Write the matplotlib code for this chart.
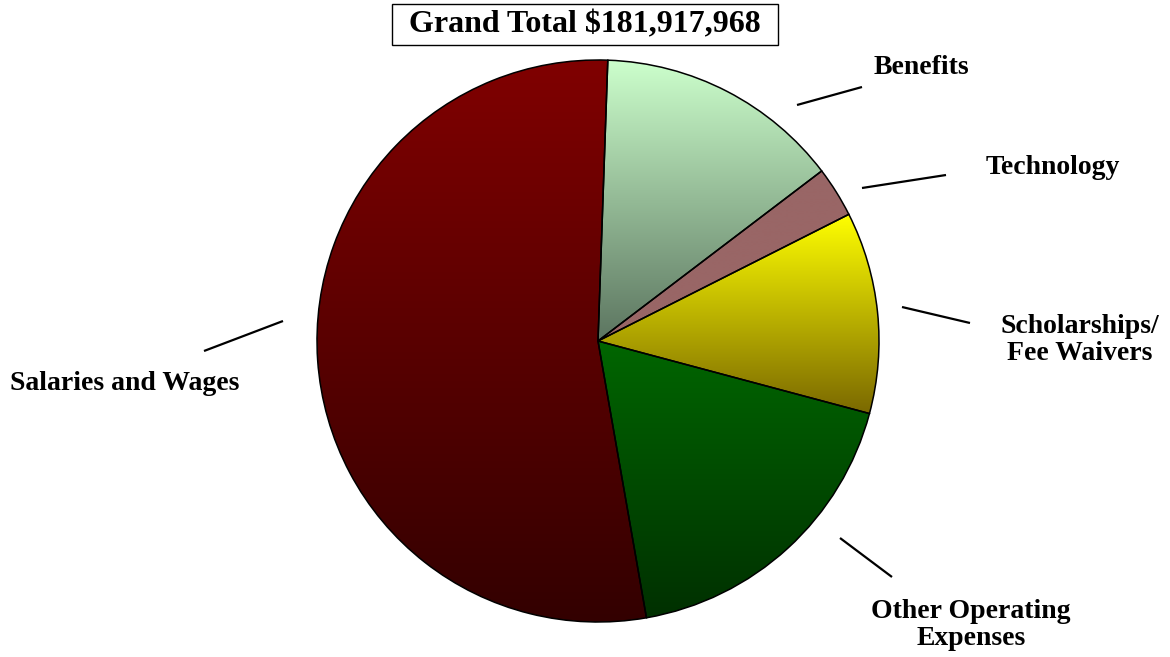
import numpy as np
import matplotlib
matplotlib.use("Agg")
import matplotlib.pyplot as plt
from matplotlib.colors import to_rgb
from matplotlib.patches import Rectangle

# Budget by category (dollars), drawn clockwise from the top
categories = ["Benefits", "Technology", "Scholarships/\nFee Waivers",
              "Other Operating\nExpenses", "Salaries and Wages"]
amounts = [25_650_000, 5_280_000, 21_100_000, 32_900_000, 96_987_968]
grand_total = sum(amounts)

# vertical gradient (top colour, bottom colour) for each slice
top_colors = ["#ccffcc", "#996666", "#ffff00", "#006600", "#800000"]
bottom_colors = ["#5c7560", "#996666", "#7a6800", "#003000", "#330000"]

W, H = 1170, 657
fig = plt.figure(figsize=(W / 100, H / 100), dpi=100)
ax = fig.add_axes([0, 0, 1, 1])
ax.set_xlim(0, W)
ax.set_ylim(0, H)
ax.set_aspect("equal")
ax.axis("off")

def py(y):
    """Convert a top-down pixel row to the axes' y coordinate."""
    return H - y

cx, cy, R = 598, py(341), 281

wedges, _ = ax.pie(amounts, center=(cx, cy), radius=R, startangle=88,
                   counterclock=False,
                   wedgeprops=dict(edgecolor="black", linewidth=1.1,
                                   facecolor="none"))

for w, ctop, cbot in zip(wedges, top_colors, bottom_colors):
    t = np.radians(np.linspace(w.theta1, w.theta2, 200))
    ys = np.concatenate([[cy], cy + R * np.sin(t)])
    y0, y1 = ys.min(), ys.max()
    n = 256
    frac = np.linspace(0, 1, n)[:, None]  # 0 at top, 1 at bottom
    c0, c1 = np.array(to_rgb(ctop)), np.array(to_rgb(cbot))
    grad = (c0 * (1 - frac) + c1 * frac)[:, None, :]
    im = ax.imshow(grad, extent=(cx - R, cx + R, y0, y1), origin="upper",
                   aspect="auto", interpolation="bilinear", zorder=1)
    im.set_clip_path(w)
    w.set_zorder(2)

ax.set_xlim(0, W)
ax.set_ylim(0, H)

# leader lines (pixel endpoints)
leaders = [((797, 105), (862, 87)),
           ((862, 188), (946, 175)),
           ((902, 307), (970, 323)),
           ((840, 538), (892, 577)),
           ((204, 351), (283, 321))]
label_pos = [(921, 67), (1053, 168), (1080, 340), (971, 625), (125, 384)]

font = dict(family="Liberation Serif", weight="bold", size=20)
for (p0, p1), (lx, ly), name in zip(leaders, label_pos, categories):
    ax.plot([p0[0], p1[0]], [py(p0[1]), py(p1[1])], color="black",
            lw=1.6, solid_capstyle="butt", zorder=3)
    ax.text(lx, py(ly), name, ha="center", va="center",
            multialignment="center", linespacing=1.1, **font)

# title box
ax.add_patch(Rectangle((392, py(45)), 386, 41, facecolor="white",
                       edgecolor="black", lw=1.0, zorder=3))
ax.text(585, py(25), f"Grand Total ${grand_total:,}", ha="center",
        va="center", family="Liberation Serif", weight="bold", size=23,
        zorder=4)

fig.savefig("out.png", dpi=100)
